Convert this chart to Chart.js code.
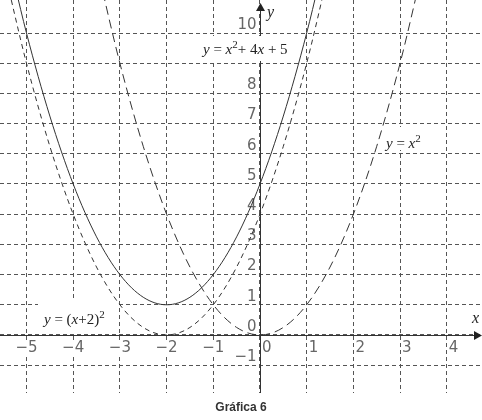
<!DOCTYPE html>
<html>
<head>
<meta charset="utf-8">
<script src="https://cdn.jsdelivr.net/npm/chart.js@4.4.1/dist/chart.umd.min.js"></script>
<style>
html,body{margin:0;padding:0;background:#fff;}
#wrap{width:482px;height:420px;position:relative;}
</style>
</head>
<body>
<div id="wrap"><canvas id="c"></canvas></div>
<script>
// ---- data ----
const xWide = [-5.5,-5,-4.5,-4,-3.5,-3,-2.5,-2,-1.5,-1,-0.5,0,0.5,1,1.5];
const ySolid = [13.25,10,7.25,5,3.25,2,1.25,1,1.25,2,3.25,5,7.25,10,13.25];   // y = x^2 + 4x + 5
const yShift = [12.25,9,6.25,4,2.25,1,0.25,0,0.25,1,2.25,4,6.25,9,12.25];      // y = (x+2)^2
const xCenter = [-3.5,-3,-2.5,-2,-1.5,-1,-0.5,0,0.5,1,1.5,2,2.5,3,3.5];
const ySquare = [12.25,9,6.25,4,2.25,1,0.25,0,0.25,1,2.25,4,6.25,9,12.25];    // y = x^2
const xTickValues = [-5,-4,-3,-2,-1,0,1,2,3,4];
const xTickLabels = ['\u22125','\u22124','\u22123','\u22122','\u22121','0','1','2','3','4'];
const yTickValues = [-1,0,1,2,3,4,5,6,7,8,10];
const yTickLabels = ['\u22121','0','1','2','3','4','5','6','7','8','10'];
const caption = 'Gr\u00e1fica 6';

const zip = (xs, ys) => xs.map((v, i) => ({x: v, y: ys[i]}));
const ink = '#333';
const gridInk = '#555';

const labelsPlugin = {
  id: 'mathDecor',
  beforeDatasetsDraw(chart) {
    const {ctx, chartArea: ca, scales: {x, y}} = chart;
    ctx.save();
    const X0 = Math.round(x.getPixelForValue(0)) + 0.5;
    const Y0 = Math.round(y.getPixelForValue(0)) + 0.5;
    // axes
    ctx.strokeStyle = ink; ctx.lineWidth = 1; ctx.setLineDash([]);
    ctx.beginPath();
    ctx.moveTo(ca.left, Y0); ctx.lineTo(ca.right - 6, Y0);
    ctx.moveTo(X0, ca.bottom); ctx.lineTo(X0, ca.top + 10);
    ctx.stroke();
    ctx.fillStyle = '#222';
    ctx.beginPath();
    ctx.moveTo(ca.right, Y0); ctx.lineTo(ca.right - 8, Y0 - 4.5); ctx.lineTo(ca.right - 8, Y0 + 4.5); ctx.closePath(); ctx.fill();
    ctx.beginPath();
    ctx.moveTo(X0, ca.top + 3); ctx.lineTo(X0 - 4.5, ca.top + 11); ctx.lineTo(X0 + 4.5, ca.top + 11); ctx.closePath(); ctx.fill();

    // tick labels
    ctx.font = '15px "DejaVu Sans"';
    ctx.textBaseline = 'middle';
    xTickValues.forEach((v, i) => {
      const px = x.getPixelForValue(v);
      const t = xTickLabels[i];
      const w = ctx.measureText(t).width;
      let left = v < 0 ? px - w / 2 : px + 2;
      if (v < 0) { ctx.fillStyle = '#fff'; ctx.fillRect(left, Y0 + 6, w, 14); }
      ctx.fillStyle = '#666';
      ctx.textAlign = 'left';
      ctx.fillText(t, left, Y0 + 13);
    });
    ctx.textAlign = 'right';
    yTickValues.forEach((v, i) => {
      const py = y.getPixelForValue(v);
      ctx.fillStyle = '#666';
      ctx.fillText(yTickLabels[i], X0 - 4, py - 8);
    });

    // function labels
    const serif = '"Liberation Serif", "DejaVu Serif", serif';
    function rich(segs, sx, base, size) {
      let cx = sx;
      ctx.textAlign = 'left'; ctx.textBaseline = 'alphabetic'; ctx.fillStyle = '#222';
      segs.forEach(s => {
        const sz = s.sup ? Math.round(size * 0.7) : size;
        ctx.font = (s.i ? 'italic ' : '') + sz + 'px ' + serif;
        ctx.fillText(s.t, cx, s.sup ? base - 6 : base);
        cx += ctx.measureText(s.t).width;
      });
    }
    ctx.fillStyle = '#fff';
    ctx.fillRect(198, 36, 100, 25);
    ctx.fillRect(383, 127, 46, 23);
    ctx.fillRect(38, 298, 79, 35);
    rich([{t:'y',i:1},{t:' = '},{t:'x',i:1},{t:'2',sup:1},{t:'+ 4'},{t:'x',i:1},{t:' + 5'}], 203, 54, 15);
    rich([{t:'y',i:1},{t:' = '},{t:'x',i:1},{t:'2',sup:1}], 386, 148, 15);
    rich([{t:'y',i:1},{t:' = ('},{t:'x',i:1},{t:'+2)'},{t:'2',sup:1}], 44, 324, 15);
    rich([{t:'x',i:1}], 472, 323, 16);
    rich([{t:'y',i:1}], 267, 17, 16);
    ctx.restore();
  }
};

const baseLine = {showLine: true, pointRadius: 0, borderColor: ink, borderWidth: 1, fill: false, cubicInterpolationMode: 'monotone'};

new Chart(document.getElementById('c'), {
  type: 'scatter',
  data: {
    datasets: [
      Object.assign({label: 'y = x^2 + 4x + 5', data: zip(xWide, ySolid)}, baseLine),
      Object.assign({label: 'y = (x+2)^2', data: zip(xWide, yShift), borderDash: [5, 4]}, baseLine),
      Object.assign({label: 'y = x^2', data: zip(xCenter, ySquare), borderDash: [9, 5]}, baseLine)
    ]
  },
  options: {
    responsive: true,
    maintainAspectRatio: false,
    animation: false,
    layout: {padding: 0},
    plugins: {
      legend: {display: false},
      tooltip: {enabled: false},
      title: {
        display: true, position: 'bottom', text: caption, color: '#333',
        font: {family: '"Liberation Sans", Arial, sans-serif', size: 12, weight: 'bold'},
        padding: {top: 7, bottom: 5.6}
      }
    },
    scales: {
      x: {
        type: 'linear', min: -5.567, max: 4.754,
        ticks: {display: false, stepSize: 1, includeBounds: false},
        grid: {color: gridInk, drawTicks: false, lineWidth: 1},
        border: {display: false, dash: [4, 3]},
        afterBuildTicks: s => { s.ticks = xTickValues.map(v => ({value: v})); },
        afterFit: s => { s.height = 0; }
      },
      y: {
        type: 'linear', min: -1.921, max: 11.093,
        ticks: {display: false, stepSize: 1, includeBounds: false},
        grid: {color: gridInk, drawTicks: false, lineWidth: 1},
        border: {display: false, dash: [4, 3]},
        afterBuildTicks: s => { s.ticks = s.ticks.filter(t => t.value >= -1 && t.value <= 10); },
        afterFit: s => { s.width = 0; }
      }
    }
  },
  plugins: [labelsPlugin]
});
</script>
</body>
</html>
